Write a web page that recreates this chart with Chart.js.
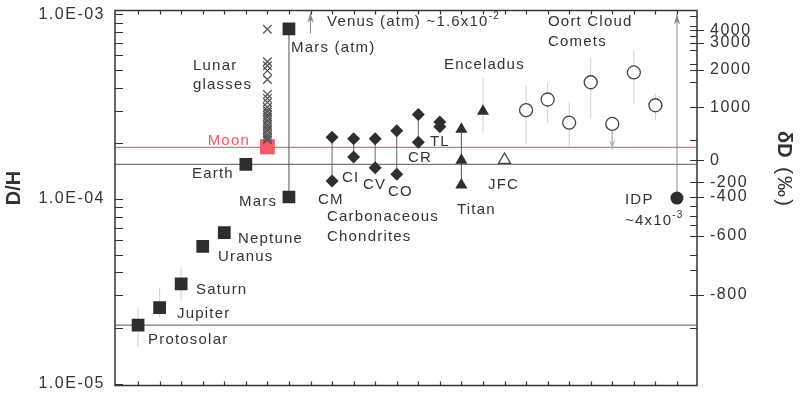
<!DOCTYPE html>
<html>
<head>
<meta charset="utf-8">
<script src="https://cdn.jsdelivr.net/npm/chart.js@4.4.1/dist/chart.umd.min.js"></script>
<style>
  html, body { margin: 0; padding: 0; background: #fff; }
</style>
</head>
<body>
<canvas id="chart" width="800" height="396"></canvas>
<script>
// D/H, x = column index along the (unlabelled) x axis
var planetNames = ['Protosolar', 'Jupiter', 'Saturn', 'Uranus', 'Neptune', 'Earth', 'Mars', 'Mars (atm)'];
var planetX = [0, 1, 2, 3, 4, 5, 7, 7];
var planetDH = [2.07e-5, 2.58e-5, 3.47e-5, 5.54e-5, 6.58e-5, 1.54e-4, 1.025e-4, 8.35e-4];
var planetErrX = [0, 1, 2];
var planetErrLo = [1.58e-5, 2.28e-5, 2.81e-5];
var planetErrHi = [2.58e-5, 3.30e-5, 4.22e-5];

var moonX = 6;
var moonDH = 1.92e-4;
var lunarGlassDH = [8.31e-4, 5.54e-4, 5.27e-4, 4.96e-4, 4.44e-4, 3.69e-4, 3.51e-4, 3.34e-4,
    3.14e-4, 3.02e-4, 2.95e-4, 2.85e-4, 2.78e-4, 2.68e-4, 2.61e-4, 2.52e-4, 2.46e-4,
    2.38e-4, 2.34e-4, 2.26e-4, 2.20e-4, 2.13e-4, 2.09e-4];

var chondriteNames = ['CM', 'CI', 'CV', 'CO', 'CR', 'TL'];
var chondriteX = [9, 10, 11, 12, 13, 14];
var chondriteHi = [2.16e-4, 2.12e-4, 2.12e-4, 2.34e-4, 2.87e-4, 2.61e-4];
var chondriteLo = [1.253e-4, 1.69e-4, 1.477e-4, 1.36e-4, 2.03e-4, 2.46e-4];

var titanX = 15;
var titanDH = [2.39e-4, 1.62e-4, 1.19e-4];
var enceladusX = 16;
var enceladusDH = 2.99e-4;
var enceladusErr = [2.28e-4, 4.55e-4];
var jfcX = 17;
var jfcDH = 1.63e-4;

var oortX = [18, 19, 20, 21, 22, 23, 24];
var oortDH = [3.03e-4, 3.46e-4, 2.59e-4, 4.29e-4, 2.55e-4, 4.85e-4, 3.22e-4];
var oortLo = [1.97e-4, 2.58e-4, 1.92e-4, 2.75e-4, null, 3.30e-4, 2.68e-4];
var oortHi = [4.12e-4, 4.28e-4, 3.34e-4, 5.82e-4, null, 6.34e-4, 3.73e-4];
var oortLimitX = 22;
var oortLimitDH = 1.85e-4;

var idpX = 25;
var idpDH = 1.012e-4;
var idpArrowTop = 1.0e-3;
var venusX = 8;
var venusArrow = [7.9e-4, 1.02e-3];

var earthLineDH = 1.54e-4;
var moonLineDH = 1.905e-4;
var protosolarLineDH = 2.07e-5;

var leftTickDH = [1e-3, 1e-4, 1e-5];
var leftTickLabels = ['1.0E-03', '1.0E-04', '1.0E-05'];
var deltaTickDH = [8.2e-4, 7.0e-4, 5.0e-4, 3.14e-4, 1.62e-4, 1.23e-4, 1.025e-4, 6.3e-5, 3.03e-5];
var deltaTickLabels = ['4000', '3000', '2000', '1000', '0', '-200', '-400', '-600', '-800'];
var deltaMinorDH = [9.8e-4, 8.7e-4, 7.6e-4, 6.4e-4, 5.4e-4, 4.3e-4, 2.1e-4, 9.2e-5, 8.1e-5,
    7.2e-5, 5.0e-5, 4.1e-5, 2.0e-5];

var xMin = -1.07, xMax = 25.93;
var yMin = 9.757e-6, yMax = 1.0505e-3;

var INK = '#333333';
var FONT = '"Liberation Sans", Arial, sans-serif';

function seg(x, a, b) {
    return [{x: x, y: a}, {x: x, y: b}];
}
function lineSet(data, color, width, order, extra) {
    var ds = {data: data, showLine: true, borderColor: color, borderWidth: width,
        pointRadius: 0, order: order};
    if (extra) { Object.keys(extra).forEach(function (k) { ds[k] = extra[k]; }); }
    return ds;
}
function pointSet(data, style, radius, fill, stroke, bw) {
    return {data: data, pointStyle: style, pointRadius: radius, pointBackgroundColor: fill,
        pointBorderColor: stroke, pointBorderWidth: bw, order: 0};
}

var datasets = [];
// horizontal reference lines
datasets.push(lineSet([{x: xMin, y: earthLineDH}, {x: xMax, y: earthLineDH}], '#7a7a7a', 1.3, 5));
datasets.push(lineSet([{x: xMin, y: protosolarLineDH}, {x: xMax, y: protosolarLineDH}], '#7a7a7a', 1.3, 5));
datasets.push(lineSet([{x: xMin, y: moonLineDH}, {x: xMax, y: moonLineDH}], '#f06a78', 1.2, 5));
// error bars
planetErrX.forEach(function (x, i) {
    datasets.push(lineSet(seg(x, planetErrLo[i], planetErrHi[i]), '#cfcfcf', 1, 4));
});
oortX.forEach(function (x, i) {
    if (oortLo[i] !== null) datasets.push(lineSet(seg(x, oortLo[i], oortHi[i]), '#d2d2d2', 1, 4));
});
datasets.push(lineSet(seg(enceladusX, enceladusErr[0], enceladusErr[1]), '#cfcfcf', 1, 4));
datasets.push(lineSet(seg(oortLimitX, oortDH[4], oortLimitDH), '#b8b8b8', 1, 4, {arrow: 'down'}));
// connectors and arrows
datasets.push(lineSet(seg(planetX[6], planetDH[6], planetDH[7]), '#555555', 1, 3));
chondriteX.forEach(function (x, i) {
    datasets.push(lineSet(seg(x, chondriteLo[i], chondriteHi[i]), '#666666', 1, 3));
});
datasets.push(lineSet(seg(titanX, titanDH[2], titanDH[0]), '#555555', 1, 3));
datasets.push(lineSet(seg(venusX, venusArrow[0], venusArrow[1]), '#888888', 1, 3, {arrow: 'up'}));
datasets.push(lineSet(seg(idpX, idpDH, idpArrowTop), '#8a8a8a', 1, 3, {arrow: 'up'}));
// markers
datasets.push(pointSet(lunarGlassDH.map(function (v) { return {x: moonX, y: v}; }),
    'crossRot', 6, '#555', '#555', 1.3));
datasets.push(pointSet(planetX.map(function (x, i) { return {x: x, y: planetDH[i]}; }),
    'rect', 9, '#2e2e2e', '#2e2e2e', 0));
datasets.push(pointSet([{x: moonX, y: moonDH}], 'rect', 10.5, '#f45a68', '#f45a68', 0));
datasets.push(pointSet(chondriteX.map(function (x, i) { return {x: x, y: chondriteHi[i]}; })
    .concat(chondriteX.map(function (x, i) { return {x: x, y: chondriteLo[i]}; })),
    'rectRot', 6.5, '#2e2e2e', '#2e2e2e', 0));
datasets.push(pointSet(titanDH.map(function (v) { return {x: titanX, y: v}; })
    .concat([{x: enceladusX, y: enceladusDH}]), 'triangle', 7, '#2e2e2e', '#2e2e2e', 0));
datasets.push(pointSet([{x: jfcX, y: jfcDH}], 'triangle', 7, '#fff', '#444', 1.2));
datasets.push(pointSet(oortX.map(function (x, i) { return {x: x, y: oortDH[i]}; }),
    'circle', 6.5, '#fff', '#444', 1.3));
datasets.push(pointSet([{x: idpX, y: idpDH}], 'circle', 6.5, '#2e2e2e', '#2e2e2e', 0));

// text placed on the page (left x, middle y)
var notes = [
    ['Protosolar', 148, 340], ['Jupiter', 177, 314], ['Saturn', 196, 290],
    ['Uranus', 218, 257], ['Neptune', 238, 239], ['Mars', 239, 202], ['Earth', 192, 174],
    ['Lunar', 193, 66], ['glasses', 193, 85], ['Mars (atm)', 291, 48],
    ['CM', 318, 200], ['CI', 342, 178], ['CV', 363, 185], ['CO', 388, 192],
    ['CR', 408, 158], ['TL', 430, 142], ['Carbonaceous', 327, 217], ['Chondrites', 327, 237],
    ['Titan', 457, 210], ['JFC', 488, 185], ['Enceladus', 444, 65],
    ['Oort Cloud', 548, 22], ['Comets', 548, 42], ['IDP', 625, 200]
];
var supNotes = [['Venus (atm) ~1.6x10', '-2', 327, 22], ['~4x10', '-3', 625, 221]];

var decor = {
    id: 'decor',
    afterDatasetsDraw: function (chart) {
        var ctx = chart.ctx, a = chart.chartArea;
        var xs = chart.scales.x, ys = chart.scales.y;
        ctx.save();
        chart.data.datasets.forEach(function (ds) {
            if (!ds.arrow) return;
            var tip = ds.data[ds.data.length - 1];
            var px = xs.getPixelForValue(tip.x), py = ys.getPixelForValue(tip.y);
            var d = ds.arrow === 'up' ? 1 : -1;
            ctx.fillStyle = ds.borderColor;
            ctx.beginPath();
            ctx.moveTo(px, py);
            ctx.lineTo(px - 3.2, py + d * 10);
            ctx.lineTo(px, py + d * 7);
            ctx.lineTo(px + 3.2, py + d * 10);
            ctx.closePath();
            ctx.fill();
        });

        // frame and inward ticks
        ctx.strokeStyle = INK;
        ctx.lineWidth = 1.5;
        ctx.strokeRect(a.left, a.top, a.right - a.left, a.bottom - a.top);
        ctx.lineWidth = 1.2;
        ctx.beginPath();
        for (var e = -5; e <= -3; e++) {
            for (var m = 1; m <= 9; m++) {
                var v = m * Math.pow(10, e);
                if (v < yMin || v > yMax) continue;
                var y = Math.round(ys.getPixelForValue(v)) + 0.5;
                ctx.moveTo(a.left, y);
                ctx.lineTo(a.left + 8, y);
            }
        }
        deltaMinorDH.forEach(function (v) {
            var y = Math.round(ys.getPixelForValue(v)) + 0.5;
            ctx.moveTo(a.right, y);
            ctx.lineTo(a.right - 7, y);
        });
        deltaTickDH.forEach(function (v) {
            var y = Math.round(ys.getPixelForValue(v)) + 0.5;
            ctx.moveTo(a.right - 7, y);
            ctx.lineTo(a.right + 7, y);
        });
        for (var i = 0; i <= 25; i++) {
            var x = Math.round(xs.getPixelForValue(i)) + 0.5;
            ctx.moveTo(x, a.top);
            ctx.lineTo(x, a.top + 4);
            ctx.moveTo(x, a.bottom);
            ctx.lineTo(x, a.bottom - 4);
        }
        ctx.stroke();
        ctx.restore();
    },
    afterDraw: function (chart) {
        var ctx = chart.ctx, a = chart.chartArea;
        var ys = chart.scales.y;
        ctx.save();
        ctx.fillStyle = INK;
        ctx.textBaseline = 'middle';

        // axis labels
        ctx.font = '16px ' + FONT;
        ctx.letterSpacing = '1.5px';
        ctx.textAlign = 'right';
        leftTickDH.forEach(function (v, i) {
            ctx.fillText(leftTickLabels[i], a.left - 10, ys.getPixelForValue(v));
        });
        ctx.textAlign = 'left';
        deltaTickDH.forEach(function (v, i) {
            ctx.fillText(deltaTickLabels[i], a.right + 13, ys.getPixelForValue(v));
        });

        // notes
        ctx.font = '15px ' + FONT;
        ctx.letterSpacing = '1.2px';
        notes.forEach(function (n) { ctx.fillText(n[0], n[1], n[2]); });
        supNotes.forEach(function (n) {
            ctx.font = '15px ' + FONT;
            ctx.fillText(n[0], n[2], n[3]);
            var w = ctx.measureText(n[0]).width;
            ctx.font = '10px ' + FONT;
            ctx.fillText(n[1], n[2] + w, n[3] - 6);
        });
        ctx.font = '15px ' + FONT;
        ctx.fillStyle = '#f05a68';
        ctx.textAlign = 'right';
        ctx.fillText('Moon', 250, 141);

        // axis titles
        ctx.fillStyle = INK;
        ctx.letterSpacing = '0px';
        ctx.save();
        ctx.translate(14, 188);
        ctx.rotate(-Math.PI / 2);
        ctx.textAlign = 'center';
        ctx.font = 'bold 20px ' + FONT;
        ctx.fillText('D/H', 0, 0);
        ctx.restore();

        ctx.save();
        ctx.translate(784, 131);
        ctx.rotate(Math.PI / 2);
        ctx.textAlign = 'left';
        ctx.font = 'bold 20px ' + FONT;
        ctx.fillText('\u03b4D', 0, 0);
        ctx.font = '21px ' + FONT;
        ctx.letterSpacing = '2px';
        ctx.fillText('(\u2030)', 36, 0);
        ctx.restore();
        ctx.restore();
    }
};

new Chart(document.getElementById('chart'), {
    type: 'scatter',
    data: {datasets: datasets},
    options: {
        responsive: false,
        animation: false,
        devicePixelRatio: 1,
        layout: {padding: {left: 115, right: 103, top: 9, bottom: 7}},
        plugins: {legend: {display: false}, tooltip: {enabled: false}},
        scales: {
            x: {type: 'linear', display: false, min: xMin, max: xMax},
            y: {type: 'logarithmic', display: false, min: yMin, max: yMax}
        }
    },
    plugins: [decor]
});
</script>
</body>
</html>
